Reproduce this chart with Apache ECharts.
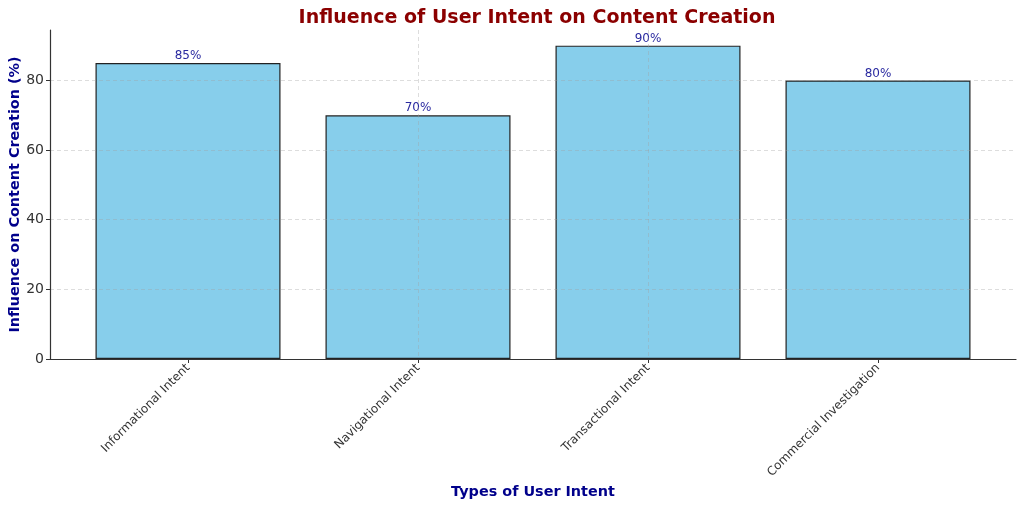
<!DOCTYPE html>
<html><head><meta charset="utf-8">
<script src="https://cdn.jsdelivr.net/npm/echarts@6/dist/echarts.min.js"></script>
<style>html,body{margin:0;padding:0;background:#fff}#c{width:1024px;height:508px}</style>
</head><body><div id="c"></div>
<script>
const categories = ['Informational Intent', 'Navigational Intent', 'Transactional Intent', 'Commercial Investigation'];
const values = [85, 70, 90, 80];
const yTicks = [0, 20, 40, 60, 80];

const chart = echarts.init(document.getElementById('c'), null, {renderer: 'canvas'});
const font = 'DejaVu Sans';
const gridLine = {show: true, showMinLine: false, showMaxLine: false, lineStyle: {color: 'rgba(160,160,160,0.45)', type: [4, 3], width: 0.8}};
chart.setOption({
  animation: false,
  backgroundColor: '#fff',
  title: {
    text: 'Influence of User Intent on Content Creation',
    left: 532, top: 4, textAlign: 'center',
    textStyle: {fontFamily: font, fontSize: 19, fontWeight: 'bold', color: '#8B0000'}
  },
  grid: {left: 50, right: 8, top: 30, bottom: 149, containLabel: false, outerBoundsMode: 'none'},
  xAxis: {
    type: 'value', min: -0.6, max: 3.6, z: 5,
    name: 'Types of User Intent', nameLocation: 'middle', nameGap: 126, nameMoveOverlap: false,
    nameTextStyle: {fontFamily: font, fontSize: 14.4, fontWeight: 'bold', color: '#00008B'},
    axisLine: {show: true, onZero: false, lineStyle: {color: '#333', width: 1.2}},
    axisTick: {show: true, customValues: [0, 1, 2, 3], length: 4, lineStyle: {color: '#333'}},
    axisLabel: {
      customValues: [0, 1, 2, 3], rotate: 45, margin: 7,
      fontFamily: font, fontSize: 12, color: '#333',
      formatter: v => categories[Math.round(v)]
    },
    splitLine: gridLine
  },
  yAxis: {
    type: 'value', min: 0, max: 94.5, interval: 20, z: 5,
    name: 'Influence on Content Creation (%)', nameLocation: 'middle', nameGap: 28, nameMoveOverlap: false,
    nameTextStyle: {fontFamily: font, fontSize: 14.4, fontWeight: 'bold', color: '#00008B'},
    axisLine: {show: true, onZero: false, lineStyle: {color: '#333', width: 1.2}},
    axisTick: {show: true, length: 4, lineStyle: {color: '#333'}},
    axisLabel: {showMaxLabel: false, fontFamily: font, fontSize: 14, color: '#333', margin: 6,
      formatter: v => yTicks.includes(v) ? String(v) : ''},
    splitLine: gridLine
  },
  series: [{
    type: 'bar',
    data: values.map((v, i) => [i, v]),
    barWidth: 185,
    itemStyle: {color: '#87CEEB', borderColor: '#222', borderWidth: 1.2},
    label: {show: true, position: 'top', distance: 1, formatter: p => p.value[1] + '%',
      fontFamily: font, fontSize: 12, color: '#2a2aa0'},
    z: 2
  }]
});
</script></body></html>
